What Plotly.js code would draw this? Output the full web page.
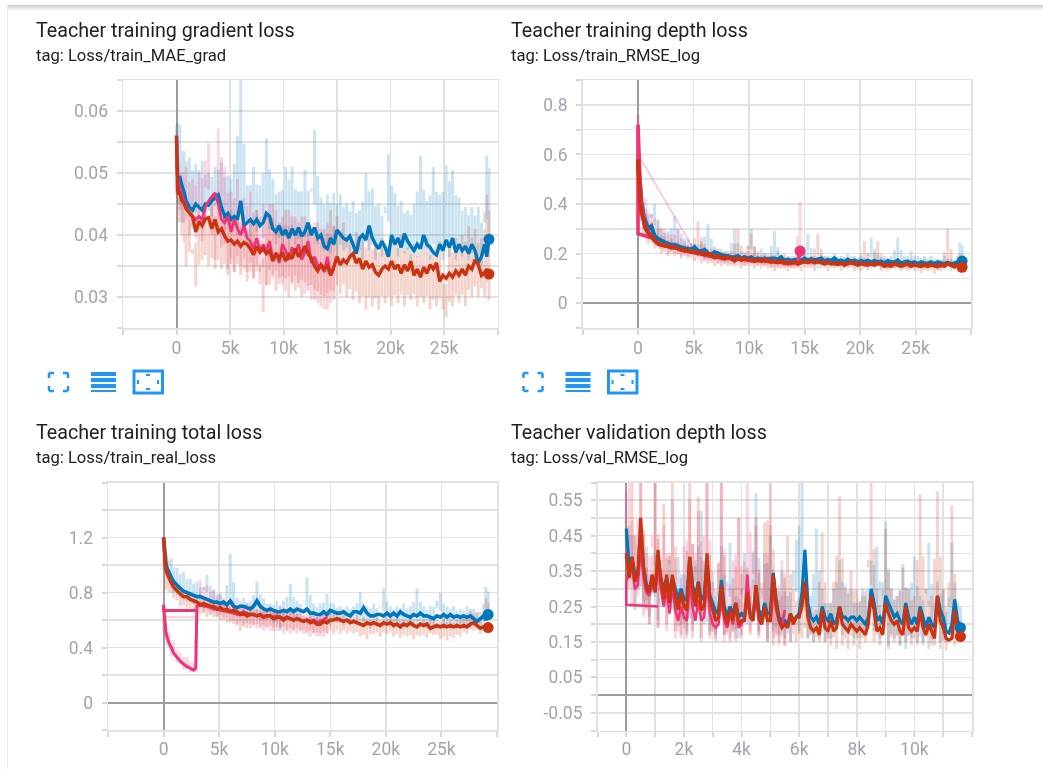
<!DOCTYPE html>
<html>
<head>
<meta charset="utf-8">
<script src="https://cdn.plot.ly/plotly-3.0.1.min.js"></script>
<style>html,body{margin:0;padding:0;background:#fff;overflow:hidden}#chart{width:1043px;height:769px;filter:blur(0.45px)}</style>
</head>
<body>
<div id="chart"></div>
<script>
const steps = [0,100,200,300,500,700,900,1200,1500,1800,
2100,2400,2700,3000,3300,3600,3900,4200,4500,4800,
5100,5400,5700,6000,6300,6600,6900,7200,7500,7800,
8100,8400,8700,9000,9300,9600,9900,10200,10500,10800,
11100,11400,11700,12000,12300,12600,12900,13200,13500,13800,
14100,14400,14700,15000,15300,15600,15900,16200,16500,16800,
17100,17400,17700,18000,18300,18600,18900,19200,19500,19800,
20100,20400,20700,21000,21300,21600,21900,22200,22500,22800,
23100,23400,23700,24000,24300,24600,24900,25200,25500,25800,
26100,26400,26700,27000,27300,27600,27900,28200,28500,28800,
29000,29200];

// --- Teacher training gradient loss
const blue1 = [.0560,.0495,.0490,.0495,.0480,.0470,.0455,.0445,.0440,.0450,
.0445,.0440,.0450,.0448,.0455,.0460,.0465,.0445,.0430,.0435,
.0425,.0430,.0425,.0455,.0415,.0420,.0425,.0418,.0425,.0415,
.0420,.0435,.0430,.0410,.0405,.0415,.0400,.0408,.0395,.0410,
.0400,.0412,.0398,.0405,.0420,.0400,.0412,.0395,.0400,.0382,
.0378,.0395,.0385,.0408,.0402,.0395,.0392,.0398,.0385,.0370,
.0395,.0400,.0392,.0415,.0395,.0385,.0378,.0390,.0380,.0365,
.0400,.0385,.0395,.0380,.0402,.0390,.0382,.0375,.0385,.0378,
.0400,.0385,.0380,.0372,.0368,.0385,.0375,.0392,.0380,.0395,
.0372,.0385,.0375,.0382,.0370,.0385,.0375,.0355,.0365,.0385,
.0365,.0393];
const red1 = [.0560,.0472,.0465,.0470,.0455,.0452,.0442,.0435,.0430,.0405,
.0422,.0415,.0426,.0428,.0410,.0425,.0405,.0410,.0398,.0390,
.0392,.0385,.0390,.0382,.0388,.0385,.0378,.0368,.0382,.0372,
.0378,.0370,.0375,.0358,.0370,.0362,.0372,.0358,.0368,.0362,
.0378,.0365,.0372,.0382,.0370,.0362,.0350,.0342,.0352,.0345,
.0350,.0335,.0348,.0365,.0352,.0360,.0355,.0365,.0370,.0355,
.0362,.0345,.0358,.0348,.0352,.0340,.0335,.0345,.0350,.0345,
.0358,.0345,.0352,.0338,.0352,.0342,.0358,.0335,.0345,.0332,
.0348,.0338,.0352,.0345,.0355,.0325,.0335,.0330,.0338,.0332,
.0342,.0335,.0345,.0335,.0350,.0345,.0360,.0352,.0335,.0340,
.0345,.0337];
const pink1 = [.0520,.0490,.0480,.0475,.0465,.0455,.0445,.0435,.0430,.0425,
.0430,.0425,.0445,.0455,.0462,.0468,.0450,.0425,.0420,.0430,
.0405,.0425,.0410,.0400,.0415,.0395,.0390,.0378,.0395,.0375,
.0385,.0375,.0390,.0360,.0372,.0355,.0385,.0375,.0360,.0380,
.0370,.0385,.0360,.0372,.0390,.0355,.0365,.0350,.0352,.0340,
.0365,.0335,.0345];
const blueRaw1 = [.0560,.0580,.0450,.0578,.0420,.0535,.0455,.0525,.0415,.0515,
.0430,.0520,.0425,.0500,.0430,.0510,.0440,.0525,.0400,.0495,
.0410,.0515,.0400,.0660,.0420,.0480,.0395,.0510,.0405,.0480,
.0395,.0556,.0410,.0490,.0385,.0470,.0380,.0510,.0375,.0510,
.0385,.0470,.0375,.0505,.0380,.0470,.0570,.0385,.0460,.0375,
.0465,.0370,.0468,.0365,.0465,.0375,.0450,.0360,.0455,.0370,
.0440,.0360,.0500,.0375,.0475,.0360,.0450,.0365,.0435,.0530,
.0370,.0468,.0365,.0455,.0370,.0440,.0360,.0450,.0365,.0528,
.0370,.0455,.0360,.0510,.0365,.0465,.0360,.0512,.0365,.0505,
.0360,.0460,.0365,.0445,.0360,.0445,.0355,.0445,.0350,.0420,
.0528,.0393];
const redRaw1 = [.0560,.0490,.0420,.0490,.0400,.0460,.0350,.0440,.0370,.0317,
.0430,.0360,.0440,.0350,.0450,.0345,.0440,.0345,.0430,.0335,
.0440,.0340,.0440,.0335,.0430,.0325,.0420,.0330,.0440,.0320,
.0276,.0435,.0320,.0450,.0310,.0420,.0320,.0440,.0300,.0430,
.0310,.0420,.0300,.0430,.0310,.0415,.0295,.0420,.0285,.0410,
.0280,.0440,.0295,.0430,.0305,.0420,.0300,.0400,.0295,.0405,
.0290,.0395,.0280,.0400,.0285,.0385,.0280,.0395,.0290,.0380,
.0285,.0390,.0290,.0400,.0285,.0380,.0295,.0385,.0285,.0375,
.0290,.0395,.0280,.0370,.0285,.0390,.0280,.0268,.0380,.0285,
.0395,.0290,.0400,.0285,.0415,.0300,.0410,.0300,.0395,.0300,
.0465,.0295];
const pinkRaw1 = [.0500,.0460,.0520,.0440,.0500,.0420,.0510,.0400,.0490,.0395,
.0500,.0390,.0520,.0548,.0400,.0360,.0572,.0380,.0510,.0345,
.0470,.0340,.0490,.0350,.0460,.0340,.0470,.0330,.0440,.0340,
.0450,.0320,.0450,.0330,.0440,.0320,.0430,.0310,.0440,.0320,
.0430,.0315,.0430,.0305,.0420,.0295,.0420,.0290,.0410,.0280,
.0420,.0290,.0415];

// --- Teacher training depth loss
const blue2 = [.58,.50,.44,.41,.35,.33,.30,.31,.27,.26,
.25,.245,.24,.235,.235,.23,.225,.22,.22,.215,
.225,.21,.21,.215,.20,.195,.205,.20,.195,.19,
.19,.185,.185,.19,.18,.185,.18,.185,.175,.18,
.175,.18,.175,.18,.18,.175,.185,.17,.175,.17,
.175,.175,.17,.18,.17,.178,.172,.175,.18,.168,
.175,.17,.18,.168,.172,.165,.175,.168,.172,.165,
.17,.165,.172,.165,.17,.165,.168,.16,.17,.165,
.165,.172,.16,.165,.168,.16,.165,.158,.165,.16,
.16,.165,.158,.165,.16,.158,.163,.158,.16,.165,
.16,.17];
const red2 = [.58,.46,.41,.37,.33,.30,.285,.27,.25,.24,
.235,.235,.23,.225,.225,.22,.215,.215,.21,.21,
.205,.205,.20,.195,.20,.19,.185,.19,.185,.18,
.185,.18,.175,.18,.175,.18,.175,.175,.17,.175,
.17,.175,.17,.17,.168,.165,.17,.165,.16,.165,
.165,.16,.165,.168,.165,.17,.165,.168,.165,.16,
.165,.16,.16,.158,.162,.155,.16,.165,.16,.155,
.16,.158,.155,.16,.155,.16,.158,.15,.155,.15,
.16,.155,.15,.155,.158,.15,.155,.152,.15,.155,
.15,.155,.15,.148,.155,.15,.16,.155,.148,.155,
.15,.145];
const blueRaw2 = [.58,.52,.38,.47,.30,.38,.28,.36,.40,.24,
.30,.22,.29,.21,.35,.20,.28,.21,.26,.20,
.24,.19,.25,.18,.32,.18,.23,.19,.22,.17,
.21,.18,.30,.17,.21,.17,.22,.30,.19,.17,
.22,.16,.20,.16,.29,.16,.19,.16,.19,.15,
.19,.15,.19,.16,.28,.15,.19,.14,.20,.15,
.19,.15,.20,.15,.19,.14,.20,.15,.19,.15,
.19,.14,.19,.265,.15,.20,.14,.19,.15,.19,
.14,.265,.15,.19,.14,.21,.15,.19,.14,.19,
.14,.19,.15,.18,.14,.19,.15,.18,.14,.18,
.245,.17];
const redRaw2 = [.58,.50,.34,.45,.28,.36,.24,.33,.22,.30,
.20,.27,.19,.26,.19,.25,.18,.24,.18,.23,
.17,.33,.16,.24,.16,.22,.15,.21,.15,.21,
.15,.21,.15,.30,.14,.20,.15,.28,.14,.21,
.14,.20,.14,.20,.13,.21,.14,.20,.13,.19,
.14,.19,.13,.20,.14,.19,.13,.28,.14,.19,
.13,.18,.14,.18,.13,.18,.14,.18,.13,.18,
.13,.25,.13,.18,.14,.25,.13,.18,.13,.17,
.14,.18,.13,.17,.13,.18,.13,.17,.12,.18,
.13,.17,.12,.17,.13,.17,.30,.13,.17,.13,
.20,.15];
const pinkSteps2 = [1500,700,0,0,100,200,300,500,700,900,1200,1500,1800,
2100,2400,2700,3000,3300,3600,3900,4200,4500,4800,
5100,5400,5700,6000,6300,6600,6900,7200,7500,7800,
8100,8400,8700,9000,9300,9600,9900,10200,10500,10800,
11100,11400,11700,12000,12300,12600,12900,13200,13500,13800,
14100,14400,14600];
const pink2 = [.26,.27,.28,.72,.56,.47,.40,.34,.31,.29,.27,.25,.24,
.235,.23,.23,.225,.225,.22,.215,.21,.21,.205,
.205,.20,.20,.20,.19,.19,.19,.185,.18,.18,
.18,.18,.17,.18,.175,.175,.175,.17,.17,.175,
.17,.17,.17,.165,.17,.165,.165,.16,.165,.16,
.165,.16,.21];
const wedgeSteps2 = [5000,0,0];
const wedge2 = [.22,.60,.76];
const pinkRawSteps2 = [0,100,200,300,500,700,900,1200,1500,1800,
2100,2400,2700,3000,3300,3600,3900,4200,4500,4800,
5100,5400,5700,6000,6300,6600,6900,7200,7500,7800,
8100,8400,8700,9000,9300,9600,9900,10200,10500,10800,
11100,11400,11700,12000,12300,12600,12900,13200,13500,13800,
14100,14400,14600];
const pinkRaw2 = [.76,.55,.35,.48,.30,.42,.26,.36,.30,.34,
.22,.30,.20,.28,.20,.30,.19,.25,.19,.24,
.22,.18,.24,.17,.21,.17,.22,.16,.20,.16,
.20,.15,.20,.15,.19,.15,.21,.15,.20,.15,
.19,.15,.19,.14,.18,.14,.19,.14,.18,.14,
.18,.14,.41];

// --- Teacher training total loss
const blue3 = [1.20,1.08,1.02,.98,.94,.91,.88,.85,.83,.81,
.80,.79,.78,.77,.77,.76,.75,.74,.73,.73,
.72,.73,.71,.74,.70,.69,.70,.70,.69,.68,
.70,.74,.70,.68,.67,.68,.67,.66,.66,.67,
.66,.68,.66,.68,.67,.66,.68,.65,.65,.64,
.64,.66,.64,.67,.66,.65,.65,.66,.64,.63,
.66,.66,.65,.69,.65,.63,.63,.64,.64,.63,
.65,.63,.65,.63,.66,.64,.63,.62,.64,.63,
.65,.63,.63,.62,.61,.63,.62,.64,.62,.64,
.62,.63,.62,.63,.62,.63,.61,.59,.61,.63,
.60,.64];
const red3 = [1.20,1.02,.97,.94,.90,.87,.84,.81,.79,.77,
.77,.75,.74,.73,.71,.72,.71,.70,.70,.68,
.69,.67,.68,.66,.67,.66,.64,.65,.63,.64,
.64,.63,.64,.62,.63,.63,.61,.62,.62,.60,
.62,.61,.60,.61,.60,.59,.60,.58,.59,.57,
.57,.59,.58,.60,.60,.61,.60,.59,.60,.58,
.59,.58,.57,.56,.58,.57,.58,.57,.56,.58,
.57,.58,.56,.57,.55,.57,.56,.58,.56,.55,
.57,.56,.57,.54,.55,.56,.55,.56,.55,.56,
.55,.56,.55,.56,.55,.57,.58,.56,.54,.55,
.55,.545];
const blueRaw3 = [1.20,1.08,.95,1.08,.88,1.05,.80,.98,.78,.95,
.74,.90,.72,.88,.70,.84,.93,.72,.82,.68,
.80,.66,.76,1.08,.64,.76,.62,.76,.62,.74,
.62,.88,.60,.76,.60,.72,.58,.74,.52,.74,
.60,.865,.58,.74,.58,.74,.91,.58,.72,.56,
.72,.58,.79,.56,.72,.58,.70,.56,.70,.58,
.70,.56,.80,.58,.70,.54,.72,.55,.70,.83,
.56,.70,.54,.70,.56,.72,.54,.70,.55,.83,
.56,.70,.54,.70,.55,.74,.80,.54,.70,.55,
.70,.54,.68,.55,.70,.54,.68,.56,.66,.54,
.84,.64];
const redRaw3 = [1.20,.96,.82,.92,.80,.90,.76,.82,.70,.80,
.68,.80,.66,.76,.64,.75,.62,.74,.62,.72,
.60,.74,.58,.72,.57,.70,.52,.68,.54,.68,
.56,.68,.54,.66,.55,.70,.52,.67,.54,.66,
.52,.66,.52,.65,.52,.64,.50,.64,.50,.62,
.48,.66,.50,.68,.50,.66,.50,.64,.50,.62,
.50,.64,.48,.62,.46,.60,.50,.62,.48,.62,
.50,.62,.48,.62,.47,.60,.48,.62,.46,.60,
.48,.60,.47,.62,.49,.60,.46,.62,.45,.60,
.47,.60,.48,.64,.50,.68,.52,.66,.50,.60,
.76,.55];
const pinkSteps3 = [3000,0,0,100,200,300,500,700,900,1200,1500,1800,2100,2400,2700,2900,3000,
3300,3600,3900,4200,4500,4800,
5100,5400,5700,6000,6300,6600,6900,7200,7500,7800,
8100,8400,8700,9000,9300,9600,9900,10200,10500,10800,
11100,11400,11700,12000,12300,12600,12900,13200,13500,13800,
14100,14400,14700];
const pink3 = [.67,.67,.71,.60,.52,.48,.43,.40,.36,.33,.30,.28,.26,.25,.235,.25,.70,
.71,.70,.70,.69,.68,.68,
.67,.67,.66,.66,.65,.64,.65,.66,.65,.64,
.64,.63,.64,.62,.63,.63,.62,.63,.62,.61,
.62,.61,.60,.61,.60,.59,.60,.59,.60,.58,
.59,.60,.62];
const wedgeSteps3 = [3000,0];
const wedge3 = [.62,.62];
const pinkRawSteps3 = [0,100,200,300,500,700,900,1200,1500,1800,2100,2400,2700,2900,3000,
3300,3600,3900,4200,4500,4800,
5100,5400,5700,6000,6300,6600,6900,7200,7500,7800,
8100,8400,8700,9000,9300,9600,9900,10200,10500,10800,
11100,11400,11700,12000,12300,12600,12900,13200,13500,13800,
14100,14400,14700];
const pinkRaw3 = [.70,.50,.58,.42,.50,.34,.44,.29,.36,.24,.33,.22,.29,.22,.72,
.89,.66,.85,.64,.82,.62,
.78,.60,.76,.58,.74,.56,.72,.56,.72,.54,
.70,.54,.70,.52,.68,.52,.68,.52,.70,.50,
.68,.50,.68,.50,.66,.50,.64,.48,.66,.48,
.64,.48,.64];

// --- Teacher validation depth loss
const valSteps = [0,100,200,300,400,500,600,700,800,900,
1000,1100,1200,1300,1400,1500,1600,1700,1800,1900,
2000,2100,2200,2300,2400,2500,2600,2700,2800,2900,
3000,3100,3200,3300,3400,3500,3600,3700,3800,3900,
4000,4100,4200,4300,4400,4500,4600,4700,4800,4900,
5000,5100,5200,5300,5400,5500,5600,5700,5800,5900,
6000,6100,6200,6300,6400,6500,6600,6700,6800,6900,
7000,7100,7200,7300,7400,7500,7600,7700,7800,7900,
8000,8100,8200,8300,8400,8500,8600,8700,8800,8900,
9000,9100,9200,9300,9400,9500,9600,9700,9800,9900,
10000,10100,10200,10300,10400,10500,10600,10700,10800,10900,
11000,11100,11200,11300,11400,11500,11600];
const blue4 = [.47,.36,.39,.34,.35,.42,.36,.31,.30,.33,
.30,.37,.33,.30,.33,.29,.33,.30,.27,.30,
.27,.27,.39,.31,.28,.32,.27,.28,.37,.28,
.26,.23,.24,.325,.25,.22,.25,.23,.26,.22,
.23,.22,.28,.23,.22,.31,.24,.22,.26,.23,
.23,.345,.27,.22,.21,.21,.20,.23,.21,.22,
.23,.29,.41,.26,.22,.21,.22,.20,.25,.22,
.21,.23,.20,.21,.25,.22,.22,.21,.22,.22,
.21,.22,.21,.20,.22,.30,.26,.21,.22,.20,
.28,.26,.24,.22,.23,.21,.20,.26,.22,.20,
.22,.20,.25,.22,.19,.22,.20,.19,.28,.24,
.22,.18,.175,.20,.27,.21,.19];
const red4 = [.40,.33,.39,.32,.34,.50,.36,.30,.29,.34,
.29,.41,.33,.27,.34,.26,.34,.28,.24,.29,
.25,.24,.39,.30,.25,.32,.24,.25,.40,.27,
.24,.21,.22,.31,.23,.20,.24,.21,.26,.20,
.21,.21,.29,.22,.21,.31,.22,.20,.25,.21,
.21,.34,.26,.21,.19,.20,.19,.23,.20,.22,
.22,.25,.32,.22,.19,.18,.19,.17,.24,.19,
.18,.21,.18,.19,.25,.20,.19,.18,.20,.19,
.18,.19,.18,.17,.20,.28,.24,.18,.19,.17,
.26,.23,.21,.20,.21,.18,.17,.25,.19,.18,
.19,.18,.24,.19,.17,.20,.18,.16,.28,.21,
.19,.16,.155,.16,.24,.18,.165];
const blueRaw4 = [.47,.40,.45,.25,.30,.45,.26,.42,.22,.30,
.40,.21,.36,.25,.30,.38,.24,.30,.39,.20,
.34,.18,.36,.20,.38,.24,.52,.20,.30,.18,
.32,.17,.28,.42,.17,.32,.43,.18,.28,.16,
.30,.40,.20,.28,.30,.57,.18,.28,.37,.16,
.45,.18,.28,.17,.35,.16,.28,.15,.35,.44,
.18,.62,.38,.16,.28,.15,.47,.16,.30,.15,
.26,.16,.30,.20,.38,.17,.31,.18,.30,.16,
.26,.16,.30,.17,.30,.38,.18,.42,.16,.28,
.49,.14,.30,.16,.28,.14,.37,.13,.30,.16,
.39,.15,.28,.14,.30,.43,.14,.26,.32,.15,
.30,.15,.20,.43,.16,.26,.19];
const redRaw4 = [.40,.30,.62,.24,.36,.62,.25,.36,.20,.30,
.62,.19,.38,.54,.20,.30,.62,.18,.30,.17,
.28,.17,.62,.18,.32,.56,.16,.30,.62,.17,
.25,.16,.28,.62,.17,.25,.15,.30,.16,.50,
.17,.24,.36,.17,.28,.50,.17,.25,.487,.15,
.62,.14,.30,.15,.28,.14,.45,.15,.30,.15,
.27,.16,.35,.16,.25,.15,.24,.15,.46,.15,
.24,.14,.32,.13,.56,.14,.30,.13,.35,.14,
.30,.13,.28,.15,.36,.62,.15,.30,.14,.25,
.47,.13,.30,.15,.28,.14,.36,.15,.30,.14,
.28,.14,.567,.15,.30,.13,.28,.14,.575,.13,
.30,.125,.25,.535,.14,.22,.165];
const pinkSteps4 = [1100,500,0,0,100,200,300,400,500,600,700,800,900,
1000,1100,1200,1300,1400,1500,1600,1700,1800,1900,
2000,2100,2200,2300,2400,2500,2600,2700,2800,2900,
3000,3100,3200,3300,3400,3500,3600,3700,3800,3900,
4000,4100,4200,4300,4400,4500,4600,4700,4800,4900,
5000,5100,5200,5300,5400,5500];
const pink4 = [.25,.253,.255,.32,.35,.36,.30,.31,.42,.33,.29,.28,.31,
.29,.36,.30,.25,.30,.23,.31,.24,.21,.25,
.22,.21,.32,.25,.21,.27,.21,.22,.32,.23,
.20,.19,.20,.27,.21,.19,.23,.20,.26,.19,
.20,.22,.34,.23,.21,.28,.21,.20,.24,.21,
.21,.30,.24,.21,.19,.24];
const pinkRawSteps4 = valSteps.slice(0,56);
const pinkRaw4 = [.32,.62,.25,.45,.28,.62,.22,.40,.20,.45,
.62,.19,.35,.48,.18,.40,.55,.16,.30,.16,
.42,.16,.55,.16,.40,.52,.15,.45,.62,.16,
.35,.15,.30,.62,.15,.30,.16,.38,.15,.50,
.16,.30,.62,.18,.40,.48,.16,.30,.40,.15,
.48,.16,.30,.14,.38,.14];

// --- Axis ticks and panel text
const kTicks = [-5000,0,5000,10000,15000,20000,25000,30000];
const kLabels = ['','0','5k','10k','15k','20k','25k',''];
const valTicks = [-1000,0,1000,2000,3000,4000,5000,6000,7000,8000,9000,10000,11000,12000];
const valLabels = ['','0','','2k','','4k','','6k','','8k','','10k','',''];
const gradTicks = [.025,.03,.035,.04,.045,.05,.055,.06,.065];
const gradLabels = ['','0.03','','0.04','','0.05','','0.06',''];
const depthTicks = [-.1,0,.1,.2,.3,.4,.5,.6,.7,.8,.9];
const depthLabels = ['','0','','0.2','','0.4','','0.6','','0.8',''];
const totalTicks = [-.2,0,.2,.4,.6,.8,1,1.2,1.4,1.6];
const totalLabels = ['','0','','0.4','','0.8','','1.2','',''];
const rmseTicks = [-.1,-.05,0,.05,.1,.15,.2,.25,.3,.35,.4,.45,.5,.55,.6];
const rmseLabels = ['','-0.05','','0.05','','0.15','','0.25','','0.35','','0.45','','0.55',''];
const titles = ['Teacher training gradient loss','Teacher training depth loss','Teacher training total loss','Teacher validation depth loss'];
const tags = ['tag: Loss/train_MAE_grad','tag: Loss/train_RMSE_log','tag: Loss/train_real_loss','tag: Loss/val_RMSE_log'];

const W = 1043, H = 769;
const BLUE = '#0077bb', RED = '#cc3311', PINK = '#ee3377';
const px = v => v / W, py = v => 1 - v / H;

const panels = [
 {box:[123,497.5,80,328], xr:[-5000,30000], xt:kTicks, xl:kLabels, yr:[.025,.065], yt:gradTicks, yl:gradLabels, lw:3.4, sd:-2,
  b:blue1,r:red1,bRaw:blueRaw1,rRaw:redRaw1,bx:steps,
  p:pink1,px:steps.slice(0,pink1.length),pRaw:pinkRaw1,ppx:steps.slice(0,pinkRaw1.length),tx:36,ty:30},
 {box:[582.5,971,80,328], xr:[-5000,30000], xt:kTicks, xl:kLabels, yr:[-.1,.9], yt:depthTicks, yl:depthLabels, lw:4.2, sd:-2,
  b:blue2,r:red2,bRaw:blueRaw2,rRaw:redRaw2,bx:steps,
  p:pink2,px:pinkSteps2,pRaw:pinkRaw2,ppx:pinkRawSteps2,tx:511,ty:30,pinkDot:true,wx:wedgeSteps2,wy:wedge2},
 {box:[108,497,482.5,730], xr:[-5000,30000], xt:kTicks, xl:kLabels, yr:[-.2,1.6], yt:totalTicks, yl:totalLabels, lw:3.6, sd:-3,
  b:blue3,r:red3,bRaw:blueRaw3,rRaw:redRaw3,bx:steps,
  p:pink3,px:pinkSteps3,pRaw:pinkRaw3,ppx:pinkRawSteps3,tx:36,ty:432,wx:wedgeSteps3,wy:wedge3},
 {box:[597.5,972,482.5,730.5], xr:[-1000,12000], xt:valTicks, xl:valLabels, yr:[-.1,.6], yt:rmseTicks, yl:rmseLabels, lw:3.2, sd:-3,
  b:blue4,r:red4,bRaw:blueRaw4,rRaw:redRaw4,bx:valSteps,
  p:pink4,px:pinkSteps4,pRaw:pinkRaw4,ppx:pinkRawSteps4,tx:511,ty:432}
];

const traces = [];
const layout = {width:W,height:H,margin:{l:0,r:0,t:0,b:0},paper_bgcolor:'#fff',plot_bgcolor:'#fff',
  showlegend:false,hovermode:false,font:{family:'Roboto, sans-serif'},annotations:[],shapes:[]};

function line(x,y,color,width,opacity,xa,ya){
  return {type:'scatter',mode:'lines',x,y,xaxis:xa,yaxis:ya,opacity,line:{color,width},hoverinfo:'skip',connectgaps:false};
}
// each raw reading is drawn as a thin vertical spike reaching most of the way to its neighbours
function rawSpikes(xs,ys,color,xa,ya){
  const X=[],Y=[];
  ys.forEach((v,i)=>{
    const a = i>0?ys[i-1]:ys[i+1], b = i+1<ys.length?ys[i+1]:ys[i-1];
    X.push(xs[i],xs[i],null);
    Y.push(v,v+.85*((a+b)/2-v),null);
  });
  return line(X,Y,color,3,.2,xa,ya);
}
function dot(x,y,color,xa,ya){
  return {type:'scatter',mode:'markers',x:[x],y:[y],xaxis:xa,yaxis:ya,marker:{color,size:11},hoverinfo:'skip'};
}

panels.forEach((p,i)=>{
  const n = i+1, xa='x'+(n===1?'':n), ya='y'+(n===1?'':n);
  traces.push(rawSpikes(p.bx,p.bRaw,BLUE,xa,ya));
  if(p.wx) traces.push(line(p.wx,p.wy,PINK,2,.25,xa,ya));
  traces.push(rawSpikes(p.ppx,p.pRaw,PINK,xa,ya));
  traces.push(rawSpikes(p.bx,p.rRaw,RED,xa,ya));
  traces.push(line(p.bx,p.b,BLUE,p.lw,1,xa,ya));
  traces.push(line(p.px,p.p,PINK,p.lw-.6,1,xa,ya));
  traces.push(line(p.bx,p.r,RED,p.lw,1,xa,ya));
  if(p.pinkDot) traces.push(dot(p.px[p.px.length-1],p.p[p.p.length-1],PINK,xa,ya));
  traces.push(dot(p.bx[p.bx.length-1],p.b[p.b.length-1],BLUE,xa,ya));
  traces.push(dot(p.bx[p.bx.length-1],p.r[p.r.length-1],RED,xa,ya));
  const common = {ticks:'outside',ticklen:5,tickcolor:'#d8d8d8',tickwidth:2,showgrid:true,gridcolor:'#e2e2e2',gridwidth:1.5,
    zeroline:true,zerolinecolor:'#9c9c9c',zerolinewidth:2,showline:true,mirror:true,linecolor:'#e2e2e2',linewidth:1.5,tickmode:'array',fixedrange:true,
    tickfont:{family:'Roboto, sans-serif',size:17.5,color:'#a3a3ad'}};
  layout['xaxis'+(n===1?'':n)] = Object.assign({},common,{anchor:ya,domain:[px(p.box[0]),px(p.box[1])],range:p.xr,tickvals:p.xt,ticktext:p.xl,ticklabelstandoff:p.sd});
  layout['yaxis'+(n===1?'':n)] = Object.assign({},common,{anchor:xa,domain:[py(p.box[3]),py(p.box[2])],range:p.yr,tickvals:p.yt,ticktext:p.yl,ticklabelstandoff:5});
  layout.annotations.push({xref:'paper',yref:'paper',x:px(p.tx-2),y:py(p.ty),xanchor:'left',yanchor:'middle',showarrow:false,text:titles[i],font:{family:'Roboto, sans-serif',size:19.7,color:'#212121'}});
  layout.annotations.push({xref:'paper',yref:'paper',x:px(p.tx-2),y:py(p.ty+25),xanchor:'left',yanchor:'middle',showarrow:false,text:tags[i],font:{family:'Roboto, sans-serif',size:16.6,color:'#212121'}});
});

// page chrome: top shadow, left edge, button icons
const ICON = '#2196f3';
function rect(x0,y0,x1,y1,fill,stroke,w){
  return {type:'rect',xref:'paper',yref:'paper',x0:px(x0),x1:px(x1),y0:py(y0),y1:py(y1),fillcolor:fill||'rgba(0,0,0,0)',line:{color:stroke||'rgba(0,0,0,0)',width:w||0},layer:'above'};
}
function seg(x0,y0,x1,y1,c,w){
  return {type:'line',xref:'paper',yref:'paper',x0:px(x0),x1:px(x1),y0:py(y0),y1:py(y1),line:{color:c,width:w},layer:'above'};
}
[['#cfcfcf',5],['#d8d8d8',6],['#e2e2e2',7],['#ececec',8],['#f4f4f4',9],['#fafafa',10]].forEach(a=>{
  layout.shapes.push(rect(7,a[1],W,a[1]+1,a[0]));
});
layout.shapes.push(rect(7,6,8,H,'#ececec'));
[0,474.5].forEach(o=>{
  const s = layout.shapes;
  [[49,373,1,1],[68,373,-1,1],[49,391,1,-1],[68,391,-1,-1]].forEach(c=>{
    s.push(seg(o+c[0],c[1],o+c[0]+5*c[2],c[1],ICON,2.5));
    s.push(seg(o+c[0],c[1],o+c[0],c[1]+5*c[3],ICON,2.5));
  });
  [372,378,384].forEach(y=>s.push(rect(o+91,y,o+116,y+4,ICON)));
  s.push(rect(o+91,390,o+116,392,ICON));
  s.push({type:'rect',xref:'paper',yref:'paper',x0:px(o+134),x1:px(o+162.5),y0:py(371),y1:py(393),fillcolor:'rgba(0,0,0,0)',line:{color:ICON,width:3},layer:'above'});
  [[148,375,0,1],[148,389,0,-1],[138,382,1,0],[158,382,-1,0]].forEach(c=>{
    s.push(seg(o+c[0]-2*(c[3]?1:0),c[1]-2*(c[2]?1:0),o+c[0]+2*(c[3]?1:0),c[1]+2*(c[2]?1:0),ICON,2));
  });
});

Plotly.newPlot('chart',traces,layout,{displayModeBar:false,staticPlot:true});
</script>
</body>
</html>
